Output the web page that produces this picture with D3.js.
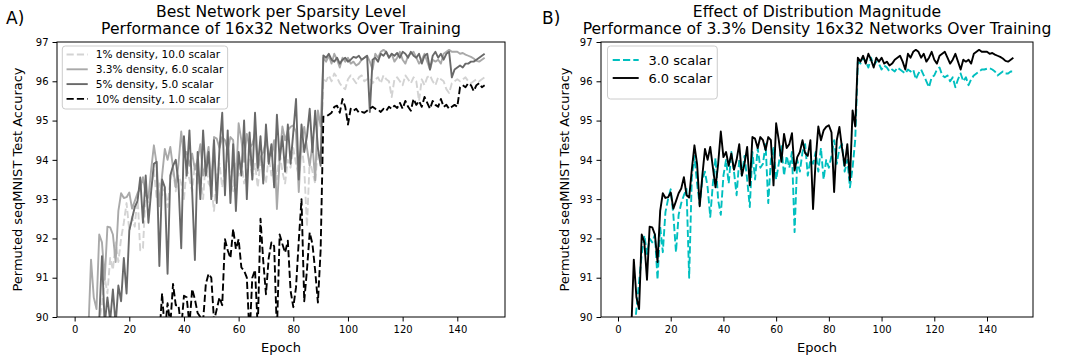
<!DOCTYPE html>
<html>
<head>
<meta charset="utf-8">
<script src="https://cdn.jsdelivr.net/npm/d3@7"></script>
<style>
    body { margin: 0; background: #fff; }
    text { font-family: 'DejaVu Sans', sans-serif; fill: #000; }
</style>
</head>
<body>
<script>
// epochs 1..150 and the axis ticks
const epochs = d3.range(1, 151);
const xTicks = [0, 20, 40, 60, 80, 100, 120, 140];
const yTicks = [90, 91, 92, 93, 94, 95, 96, 97];

// panel A: best network per sparsity level
const density1Scalar10 = [
    87.5, 88.0, 88.4, 88.8, 89.1, 89.4, 89.6, 89.8, 89.9, 90.3,
    91.0, 90.6, 91.5, 91.2, 91.9, 91.4, 92.0, 92.4, 92.9, 92.2,
    92.55, 92.3, 93.1, 91.7, 91.75, 93.2, 92.9, 93.3, 93.75, 93.0,
    93.4, 93.1, 93.3, 92.8, 93.5, 93.75, 93.2, 93.6, 93.4, 93.0,
    93.8, 93.5, 93.2, 93.9, 93.4, 93.6, 93.0, 94.0, 93.4, 93.3,
    92.7, 93.6, 93.9, 93.3, 93.8, 94.1, 93.5, 93.2, 93.9, 93.6,
    94.0, 93.4, 93.7, 94.2, 93.5, 93.9, 93.3, 94.0, 93.7, 93.4,
    94.1, 93.6, 93.9, 93.5, 94.2, 93.7, 93.4, 94.0, 93.8, 94.3,
    93.9, 93.6, 94.4, 93.8, 92.3, 94.0, 93.7, 93.4, 94.3, 93.9,
    96.05, 96.0, 96.15, 96.0, 96.2, 96.1, 95.95, 95.85, 95.8, 96.05,
    96.15, 96.05, 95.95, 96.1, 96.15, 96.0, 96.05, 96.1, 95.95, 96.05,
    96.1, 95.95, 96.15, 96.05, 96.0, 95.6, 96.05, 96.1, 96.0, 95.9,
    96.15, 96.05, 95.95, 96.1, 96.0, 95.5, 96.05, 95.9, 96.1, 96.15,
    96.0, 95.9, 96.1, 96.05, 96.0, 95.8, 95.7, 95.95, 96.0, 96.05,
    96.0, 96.05, 96.1, 96.0, 95.95, 96.0, 96.05, 96.0, 96.05, 96.1
];

// same run is shown in panel B as "6.0 scalar"
const density33Scalar6 = [
    88.0, 88.4, 88.8, 89.2, 89.6, 91.46, 90.5, 90.2, 92.1, 91.9,
    90.95, 92.3, 92.28, 92.1, 91.4, 92.7, 93.15, 93.03, 93.05, 93.17,
    92.76, 92.95, 93.15, 93.27, 93.56, 93.1, 93.04, 93.75, 94.37, 93.9,
    92.82, 93.6, 94.28, 94.0, 94.33, 93.8, 93.3, 93.9, 94.72, 94.07,
    94.2, 93.85, 94.16, 93.75, 94.0, 94.4, 93.6, 93.9, 94.33, 93.35,
    94.58, 94.54, 94.3, 94.58, 94.5, 94.25, 94.58, 94.5, 93.35, 94.93,
    94.5, 93.95, 94.66, 94.3, 94.4, 94.68, 93.73, 94.07, 94.2, 94.5,
    94.17, 94.1, 94.5, 92.75, 94.0, 94.85, 94.5, 94.75, 94.84, 94.88,
    94.7, 93.18, 94.5, 94.84, 94.3, 93.85, 94.4, 93.48, 95.26, 94.85,
    96.6, 96.5, 96.65, 96.45, 96.7, 96.55, 96.35, 96.6, 96.5, 96.6,
    96.45, 96.5, 96.4, 96.45, 96.55, 96.6, 96.65, 96.5, 96.3, 96.7,
    96.6, 96.75, 96.8, 96.75, 96.6, 96.7, 96.5, 96.6, 96.75, 96.55,
    96.45, 96.65, 96.7, 96.75, 96.6, 96.45, 96.55, 96.7, 96.5, 96.3,
    96.55, 96.5, 96.55, 96.45, 96.7, 96.75, 96.8, 96.75, 96.75, 96.75,
    96.7, 96.72, 96.68, 96.65, 96.62, 96.58, 96.52, 96.5, 96.55, 96.6
];

const density5Scalar5 = [
    87.0, 87.5, 88.0, 88.5, 89.0, 89.2, 89.5, 89.7, 89.9, 91.55,
    89.8, 90.5, 89.9, 90.7, 89.8, 90.8, 90.4, 91.5, 90.6, 92.2,
    92.5, 92.8, 92.95, 93.55, 92.4, 93.6, 92.4, 93.2, 93.9, 93.95,
    91.3, 93.5, 93.3, 91.1, 93.6, 93.85, 94.0, 93.4, 91.75, 94.6,
    93.6, 94.75, 93.2, 91.45, 94.2, 93.0, 94.75, 93.6, 94.2, 93.0,
    94.5, 92.9, 94.3, 95.2, 93.1, 94.75, 92.9, 94.4, 92.7, 94.2,
    93.6, 95.0, 93.0, 94.7, 93.5, 95.2, 93.8, 94.6, 93.4, 94.9,
    93.9, 94.4, 93.3, 95.15, 94.0, 94.6, 93.7, 94.9, 93.9, 94.7,
    95.55, 93.5, 94.9, 94.2, 94.6, 95.3, 94.2, 95.25, 94.3, 93.85,
    96.66, 96.6, 96.7, 96.55, 96.5, 96.6, 96.45, 96.55, 96.6, 96.5,
    96.55, 96.62, 96.6, 96.65, 96.55, 96.6, 96.65, 95.22, 96.55, 96.6,
    96.5, 96.7, 96.65, 96.75, 96.6, 96.7, 96.65, 96.72, 96.6, 96.75,
    96.7, 96.6, 96.75, 96.65, 96.6, 96.7, 96.45, 96.65, 96.7, 96.3,
    96.65, 96.75, 96.6, 96.7, 96.55, 96.7, 96.75, 96.1, 96.3, 96.35,
    96.4, 96.35, 96.45, 96.45, 96.5, 96.5, 96.55, 96.6, 96.65, 96.7
];

const density10Scalar1 = [
    85.0, 85.5, 86.0, 86.3, 86.6, 86.9, 87.2, 87.4, 87.6, 87.8,
    88.0, 88.2, 88.4, 88.5, 88.7, 88.8, 88.9, 89.0, 89.1, 89.2,
    89.2, 89.3, 89.3, 89.4, 89.4, 89.4, 89.5, 89.5, 89.5, 89.5,
    89.5, 90.6, 89.6, 90.35, 89.8, 90.84, 90.3, 90.3, 89.7, 90.54,
    90.5, 89.8, 90.71, 90.45, 90.1, 90.0, 89.9, 90.84, 91.1, 91.0,
    89.9, 90.2, 90.5, 90.3, 91.98, 91.7, 91.5, 92.24, 91.73, 91.98,
    91.26, 91.18, 91.0, 89.5, 91.0, 91.2, 89.7, 92.5, 91.43, 90.58,
    91.5, 91.9, 91.8, 89.6, 92.1, 91.86, 91.64, 91.94, 90.67, 90.25,
    90.76, 91.94, 93.0, 90.4, 91.2, 92.15, 91.86, 91.18, 90.37, 91.7,
    95.1, 95.1, 95.15, 95.2, 95.35, 95.38, 95.2, 95.55, 95.35, 94.9,
    95.3, 95.25, 95.3, 95.2, 95.22, 95.2, 95.25, 95.3, 95.35, 95.3,
    95.28, 95.22, 95.3, 95.25, 95.35, 95.3, 95.38, 95.32, 95.45, 95.3,
    95.5, 95.35, 95.25, 95.55, 95.4, 95.5, 95.35, 95.6, 95.45, 95.3,
    95.5, 95.4, 95.35, 95.55, 95.35, 95.4, 95.3, 95.35, 95.4, 95.35,
    95.85, 95.9, 95.85, 95.95, 95.9, 95.75, 95.9, 95.95, 95.85, 95.9
];

// panel B: 3.3% density networks at two scalars
const density33Scalar3 = [
    88.0, 88.3, 88.6, 88.9, 89.2, 89.5, 90.2, 90.9, 91.6, 92.08,
    91.6, 92.0, 91.9, 92.1, 90.95, 92.3, 91.65, 92.67, 93.0, 93.25,
    92.6, 91.65, 92.6, 92.9, 93.1, 93.26, 91.0, 93.56, 94.1, 93.4,
    92.85, 93.5, 93.7, 93.3, 92.55, 93.4, 94.05, 92.97, 92.6, 93.6,
    94.0, 93.4, 94.2, 93.7, 93.1, 94.0, 93.6, 94.1, 93.5, 92.8,
    94.2, 93.5, 94.3, 93.8, 93.9, 94.4, 92.9, 94.0, 94.3, 93.5,
    93.9, 94.35, 93.6, 94.1, 93.8, 94.2, 92.16, 94.0, 93.7, 94.2,
    94.4, 93.6, 94.0, 93.9, 94.2, 93.7, 94.3, 93.5, 94.0, 93.8,
    94.1, 94.5, 93.9, 94.3, 94.4, 93.7, 94.0, 93.3, 93.8, 94.5,
    96.5, 96.45, 96.6, 96.5, 96.35, 96.6, 96.4, 96.5, 96.45, 96.3,
    96.4, 96.35, 96.25, 96.3, 96.25, 96.35, 96.3, 96.25, 96.2, 96.3,
    96.25, 96.3, 96.05, 96.2, 96.3, 96.15, 96.0, 95.85, 96.1, 96.15,
    96.3, 96.35, 96.15, 96.1, 96.15, 96.0, 96.1, 95.85, 96.05, 96.2,
    96.0, 96.1, 95.9, 96.05, 96.15, 96.2, 96.25, 96.3, 96.3, 96.32,
    96.33, 96.3, 96.25, 96.15, 96.2, 96.25, 96.2, 96.2, 96.25, 96.25
];

const panelA = {
    id: 'a',
    tag: 'A)',
    tagX: 6,
    titles: ['Best Network per Sparsity Level', 'Performance of 16x32 Networks Over Training'],
    left: 57, right: 505, top: 42, bottom: 317,
    yLabelX: 22,
    legend: {font: 10.6, first: 8.5, row: 14.8, height: 63},
    series: [
        {name: '1% density, 10.0 scalar', values: density1Scalar10, color: '#d3d3d3', dashed: true},
        {name: '3.3% density, 6.0 scalar', values: density33Scalar6, color: '#a9a9a9', dashed: false},
        {name: '5% density, 5.0 scalar', values: density5Scalar5, color: '#696969', dashed: false},
        {name: '10% density, 1.0 scalar', values: density10Scalar1, color: '#000000', dashed: true}
    ]
};

const panelB = {
    id: 'b',
    tag: 'B)',
    tagX: 542,
    titles: ['Effect of Distribution Magnitude', 'Performance of 3.3% Density 16x32 Networks Over Training'],
    left: 601, right: 1033, top: 42, bottom: 317,
    yLabelX: 569,
    legend: {font: 13, first: 14, row: 18, height: 53},
    series: [
        {name: '3.0 scalar', values: density33Scalar3, color: '#00bfbf', dashed: true},
        {name: '6.0 scalar', values: density33Scalar6, color: '#000000', dashed: false}
    ]
};

const svg = d3.select('body')
    .append('svg')
    .attr('width', 1065)
    .attr('height', 355);

drawPanel(svg, panelA);
drawPanel(svg, panelB);

/*
 * Draws one matplotlib style panel: frame, ticks, lines, titles and legend.
 */
function drawPanel(svg, panel)
{
    const x = d3.scaleLinear()
        .domain([-6.45, 157.45])
        .range([panel.left, panel.right]);
    const y = d3.scaleLinear()
        .domain([90, 97])
        .range([panel.bottom, panel.top]);

    const clipId = `clip-${panel.id}`;
    svg.append('clipPath')
        .attr('id', clipId)
        .append('rect')
        .attr('x', panel.left)
        .attr('y', panel.top)
        .attr('width', panel.right - panel.left)
        .attr('height', panel.bottom - panel.top);

    const lineGenerator = d3.line()
        .x((d, i) => x(epochs[i]))
        .y(d => y(d));

    // data lines, clipped to the axes like matplotlib does with ylim
    svg.append('g')
        .attr('clip-path', `url(#${clipId})`)
        .selectAll('path')
        .data(panel.series)
        .enter()
        .append('path')
        .attr('d', d => lineGenerator(d.values))
        .attr('fill', 'none')
        .attr('stroke', d => d.color)
        .attr('stroke-width', 1.9)
        .attr('stroke-linejoin', 'round')
        .attr('stroke-dasharray', d => d.dashed ? '7.2 3.1' : null);

    // axes
    const xAxis = svg.append('g')
        .attr('transform', `translate(0,${panel.bottom})`)
        .attr('font-size', 13)
        .call(d3.axisBottom(x).tickValues(xTicks).tickSize(4.5).tickPadding(4).tickSizeOuter(0));
    const yAxis = svg.append('g')
        .attr('transform', `translate(${panel.left},0)`)
        .attr('font-size', 13)
        .call(d3.axisLeft(y).tickValues(yTicks).tickFormat(d3.format('d')).tickSize(4.5).tickPadding(4).tickSizeOuter(0));
    xAxis.select('.domain').remove();
    yAxis.select('.domain').remove();
    svg.selectAll('.tick line').attr('stroke-width', 1);

    // frame
    svg.append('rect')
        .attr('x', panel.left)
        .attr('y', panel.top)
        .attr('width', panel.right - panel.left)
        .attr('height', panel.bottom - panel.top)
        .attr('fill', 'none')
        .attr('stroke', '#000')
        .attr('stroke-width', 1);

    const centerX = (panel.left + panel.right) / 2;

    svg.append('text')
        .attr('x', centerX)
        .attr('y', 352)
        .attr('text-anchor', 'middle')
        .attr('font-size', 13)
        .text('Epoch');

    svg.append('text')
        .attr('transform', `translate(${panel.yLabelX},${(panel.top + panel.bottom) / 2}) rotate(-90)`)
        .attr('text-anchor', 'middle')
        .attr('font-size', 13)
        .text('Permuted seqMNIST Test Accuracy');

    // two line title and panel tag
    svg.selectAll(null)
        .data(panel.titles)
        .enter()
        .append('text')
        .attr('x', centerX)
        .attr('y', (d, i) => 17 + i * 16.5)
        .attr('text-anchor', 'middle')
        .attr('font-size', 15.6)
        .text(d => d);

    svg.append('text')
        .attr('x', panel.tagX)
        .attr('y', 24)
        .attr('font-size', 17)
        .text(panel.tag);

    drawLegend(svg, panel);
}

/*
 * Legend box in the upper left corner of the axes.
 */
function drawLegend(svg, panel)
{
    const opts = panel.legend;
    const fs = opts.font;
    const boxX = panel.left + fs * 0.5;
    const boxY = panel.top + 4;
    const handleStart = boxX + fs * 0.4;
    const handleLength = fs * 2;
    const textX = handleStart + handleLength + fs * 0.75;

    const legend = svg.append('g');
    const box = legend.append('rect')
        .attr('x', boxX)
        .attr('y', boxY)
        .attr('rx', 3)
        .attr('height', opts.height)
        .attr('fill', 'rgba(255,255,255,0.8)')
        .attr('stroke', '#cccccc')
        .attr('stroke-width', 1);

    const rows = legend.selectAll('g.row')
        .data(panel.series)
        .enter()
        .append('g')
        .attr('class', 'row')
        .attr('transform', (d, i) => `translate(0,${boxY + opts.first + opts.row * i})`);

    rows.append('line')
        .attr('x1', handleStart)
        .attr('x2', handleStart + handleLength)
        .attr('stroke', d => d.color)
        .attr('stroke-width', 1.9)
        .attr('stroke-dasharray', d => d.dashed ? '7.2 3.1' : null);

    rows.append('text')
        .attr('x', textX)
        .attr('dy', '0.35em')
        .attr('font-size', fs)
        .text(d => d.name);

    let maxWidth = 0;
    rows.selectAll('text').each(function ()
    {
        maxWidth = Math.max(maxWidth, this.getComputedTextLength());
    });

    box.attr('width', textX + maxWidth + fs * 0.4 - boxX);
}
</script>
</body>
</html>
